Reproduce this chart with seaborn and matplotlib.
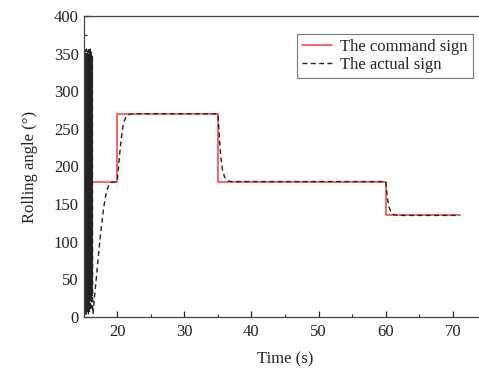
import numpy as np
import pandas as pd
import matplotlib
matplotlib.use("Agg")
import matplotlib.pyplot as plt
from matplotlib.ticker import MultipleLocator
import seaborn as sns

# Command signal (step changes)
cmd_time = [15.0, 20.0, 20.0, 35.0, 35.0, 60.0, 60.0, 71.0]
cmd_angle = [180, 180, 270, 270, 180, 180, 135, 135]

# Actual signal: start-up oscillation, then the tracked steps
act_time = [15.00, 15.04, 15.08, 15.12, 15.16, 15.20, 15.24, 15.28, 15.32, 15.36,
            15.40, 15.44, 15.48, 15.52, 15.56, 15.60, 15.64, 15.68, 15.72, 15.76,
            15.80, 15.84, 15.88, 15.92, 15.96, 16.00, 16.04, 16.08, 16.12, 16.16,
            16.20, 16.24, 16.28, 16.32, 16.36, 16.40,
            16.8, 17.2, 17.6, 18.0, 18.4, 18.8, 19.2, 20.0,
            20.15, 20.3, 20.6, 20.9, 21.3, 22.0, 35.0,
            35.1, 35.25, 35.45, 35.7, 36.0, 36.5, 37.0, 60.0,
            60.1, 60.25, 60.5, 60.8, 61.2, 62.0, 71.0]
act_angle = [5, 352, 3, 348, 8, 355, 2, 344, 12, 350,
             4, 356, 10, 341, 6, 353, 15, 347, 3, 355,
             18, 343, 7, 351, 22, 356, 9, 345, 25, 352,
             12, 340, 28, 348, 16, 4,
             42, 80, 115, 145, 166, 176, 179, 180,
             192, 208, 236, 255, 266, 270, 270,
             258, 236, 212, 195, 186, 181, 180, 180,
             170, 158, 146, 139, 136, 135, 135]

cmd = pd.DataFrame({"t": cmd_time, "angle": cmd_angle})
act = pd.DataFrame({"t": act_time, "angle": act_angle})

sns.set_style("ticks")
plt.rcParams["font.family"] = ["Liberation Serif", "DejaVu Serif"]

fig = plt.figure(figsize=(4.79, 3.71), dpi=100)
ax = fig.add_axes([83.5 / 479, 54 / 371, 403 / 479, 301 / 371])

sns.lineplot(data=cmd, x="t", y="angle", ax=ax, color="#ff3b3b", linewidth=1.1,
             sort=False, estimator=None, label="The command sign")
sns.lineplot(data=act, x="t", y="angle", ax=ax, color="#222222", linewidth=1.0,
             sort=False, estimator=None, label="The actual sign",
             linestyle=(0, (3.5, 2.5)))

ax.set_xlim(15, 75)
ax.set_ylim(0, 400)
ax.set_xticks([20, 30, 40, 50, 60, 70])
ax.xaxis.set_minor_locator(MultipleLocator(5))
ax.yaxis.set_major_locator(MultipleLocator(50))
ax.yaxis.set_minor_locator(MultipleLocator(25))
ax.tick_params(axis="both", which="major", direction="in", length=4, width=0.9,
               labelsize=12, colors="#222222")
ax.tick_params(axis="x", which="major", pad=5)
ax.tick_params(axis="both", which="minor", direction="in", length=2.2, width=0.8)
for s in ax.spines.values():
    s.set_color("#444444")
    s.set_linewidth(0.9)

ax.set_xlabel("Time (s)", fontsize=12, labelpad=8)
ax.set_ylabel("Rolling angle (°)", fontsize=12, labelpad=11)

leg = ax.legend(loc="upper right", bbox_to_anchor=(0.966, 0.94), fontsize=12,
                frameon=True, fancybox=False, handlelength=1.8, handletextpad=0.5,
                borderpad=0.3, labelspacing=0.1, borderaxespad=0)
leg.get_frame().set_edgecolor("#555555")
leg.get_frame().set_linewidth(0.8)

fig.savefig("out.png", dpi=100)
